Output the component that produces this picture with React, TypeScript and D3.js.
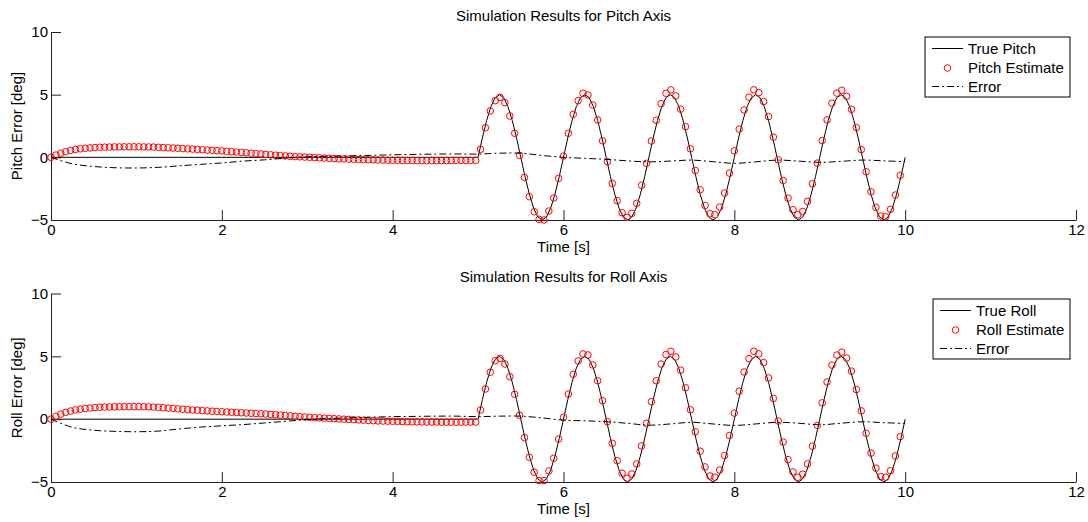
import { useEffect, useRef } from 'react';
import * as d3 from 'd3';

const width = 1088;
const height = 522;
const font = "'Liberation Sans', Arial, Helvetica, sans-serif";
const fontSize = 15;

// estimator output: 175 samples, evenly spaced over 10 s
const sampleStep = 10 / 175;
// true signal: zero until 5 s, then sampled every 0.05 s
const waveStart = 5;
const waveStep = 0.05;
// error trace sampled every 0.25 s
const errorStep = 0.25;

const xTicks = [0, 2, 4, 6, 8, 10, 12];
const yTicks = [-5, 0, 5, 10];

const trueWave = [
  0, 1.55, 2.94, 4.05, 4.76, 5, 4.76, 4.05, 2.94, 1.55, 0, -1.55, -2.94, -4.05, -4.76, -5, -4.76, -4.05, -2.94, -1.55,
  0, 1.55, 2.94, 4.05, 4.76, 5, 4.76, 4.05, 2.94, 1.55, 0, -1.55, -2.94, -4.05, -4.76, -5, -4.76, -4.05, -2.94, -1.55,
  0, 1.55, 2.94, 4.05, 4.76, 5, 4.76, 4.05, 2.94, 1.55, 0, -1.55, -2.94, -4.05, -4.76, -5, -4.76, -4.05, -2.94, -1.55,
  0, 1.55, 2.94, 4.05, 4.76, 5, 4.76, 4.05, 2.94, 1.55, 0, -1.55, -2.94, -4.05, -4.76, -5, -4.76, -4.05, -2.94, -1.55,
  0, 1.55, 2.94, 4.05, 4.76, 5, 4.76, 4.05, 2.94, 1.55, 0, -1.55, -2.94, -4.05, -4.76, -5, -4.76, -4.05, -2.94, -1.55,
  0,
];

const pitchEstimate = [
  0, 0.18, 0.33, 0.45, 0.55, 0.62, 0.68, 0.72, 0.75, 0.78,
  0.8, 0.81, 0.82, 0.83, 0.83, 0.84, 0.84, 0.84, 0.84, 0.83,
  0.83, 0.82, 0.8, 0.78, 0.76, 0.74, 0.72, 0.7, 0.68, 0.66,
  0.63, 0.61, 0.58, 0.56, 0.53, 0.51, 0.48, 0.45, 0.42, 0.39,
  0.36, 0.33, 0.3, 0.27, 0.23, 0.2, 0.17, 0.14, 0.11, 0.08,
  0.06, 0.04, 0.02, 0, -0.02, -0.04, -0.06, -0.08, -0.1, -0.12,
  -0.13, -0.15, -0.16, -0.17, -0.18, -0.19, -0.2, -0.21, -0.22, -0.23,
  -0.24, -0.24, -0.25, -0.25, -0.25, -0.26, -0.26, -0.26, -0.26, -0.26,
  -0.26, -0.26, -0.26, -0.25, -0.25, -0.25, -0.25, -0.24,
  0.64, 2.36, 3.7, 4.52, 4.79, 4.36, 3.3, 1.92, 0.16, -1.6,
  -3.14, -4.34, -4.95, -5.0, -4.29, -3.25, -1.68, 0.1, 1.92, 3.43,
  4.52, 5.11, 4.97, 4.17, 2.98, 1.32, -0.35, -2.08, -3.46, -4.42,
  -4.79, -4.47, -3.67, -2.23, -0.48, 1.3, 2.95, 4.28, 5.11, 5.38,
  4.9, 3.84, 2.45, 0.68, -1.05, -2.59, -3.84, -4.5, -4.58, -3.97,
  -2.85, -1.26, 0.52, 2.25, 3.78, 4.8, 5.38, 5.16, 4.45, 3.25,
  1.61, -0.2, -1.85, -3.25, -4.18, -4.58, -4.32, -3.52, -2.11, -0.46,
  1.34, 2.99, 4.32, 5.12, 5.35, 4.87, 3.83, 2.38, 0.62, -1.15,
  -2.75, -3.99, -4.68, -4.74, -4.15, -3.01, -1.44,
];

const pitchError = [
  0, -0.52, -0.73, -0.83, -0.85, -0.8, -0.68, -0.56, -0.45, -0.3,
  -0.2, -0.06, 0.04, 0.08, 0.12, 0.16, 0.2, 0.23, 0.26, 0.27,
  0.26, 0.33, 0.33, 0.15, 0, -0.08, -0.16, -0.28, -0.36, -0.3,
  -0.22, -0.35, -0.48, -0.36, -0.22, -0.3, -0.4, -0.32, -0.22, -0.28,
  -0.35,
];

const rollEstimate = [
  0, 0.22, 0.4, 0.54, 0.65, 0.74, 0.8, 0.85, 0.89, 0.92,
  0.94, 0.96, 0.97, 0.98, 0.99, 1.0, 1.0, 1.0, 1.0, 0.99,
  0.98, 0.96, 0.94, 0.91, 0.88, 0.85, 0.82, 0.79, 0.76, 0.73,
  0.71, 0.68, 0.66, 0.63, 0.61, 0.59, 0.57, 0.55, 0.53, 0.51,
  0.49, 0.47, 0.45, 0.43, 0.41, 0.38, 0.35, 0.32, 0.29, 0.26,
  0.23, 0.2, 0.17, 0.14, 0.12, 0.1, 0.08, 0.06, 0.04, 0.02,
  0, -0.02, -0.04, -0.06, -0.08, -0.1, -0.12, -0.14, -0.15, -0.16,
  -0.17, -0.18, -0.19, -0.2, -0.21, -0.22, -0.22, -0.23, -0.23, -0.23,
  -0.24, -0.24, -0.24, -0.24, -0.24, -0.23, -0.23, -0.23,
  0.73, 2.4, 3.73, 4.65, 4.84, 4.39, 3.38, 1.98, 0.31, -1.47,
  -3.03, -4.22, -4.89, -4.89, -4.12, -3.11, -1.58, 0.15, 2.0, 3.57,
  4.63, 5.19, 5.11, 4.31, 3.06, 1.47, -0.2, -1.92, -3.3, -4.3,
  -4.7, -4.36, -3.56, -2.13, -0.33, 1.39, 3.06, 4.39, 5.15, 5.4,
  4.95, 3.9, 2.5, 0.75, -1.0, -2.55, -3.8, -4.52, -4.62, -4.05,
  -2.9, -1.3, 0.48, 2.22, 3.75, 4.82, 5.4, 5.2, 4.5, 3.28,
  1.65, -0.15, -1.82, -3.22, -4.2, -4.62, -4.38, -3.56, -2.15, -0.5,
  1.3, 2.96, 4.3, 5.1, 5.33, 4.86, 3.82, 2.36, 0.66, -1.12,
  -2.7, -3.9, -4.57, -4.62, -4.1, -2.93, -1.39,
];

const rollError = [
  0, -0.65, -0.88, -0.97, -1.0, -0.95, -0.78, -0.63, -0.53, -0.43,
  -0.3, -0.17, -0.03, 0.05, 0.11, 0.16, 0.2, 0.22, 0.24, 0.24,
  0.2, 0.24, 0.24, 0.1, -0.08, -0.13, -0.2, -0.33, -0.48, -0.38,
  -0.25, -0.38, -0.5, -0.38, -0.25, -0.32, -0.45, -0.32, -0.21, -0.28,
  -0.34,
];

interface Panel {
  title: string;
  yLabel: string;
  names: [string, string, string];
  estimate: number[];
  error: number[];
  top: number;
  bottom: number;
  legendTop: number;
  legendWidth: number;
}

const panels: Panel[] = [
  {
    title: 'Simulation Results for Pitch Axis',
    yLabel: 'Pitch Error [deg]',
    names: ['True Pitch', 'Pitch Estimate', 'Error'],
    estimate: pitchEstimate,
    error: pitchError,
    top: 32,
    bottom: 220,
    legendTop: 37,
    legendWidth: 145,
  },
  {
    title: 'Simulation Results for Roll Axis',
    yLabel: 'Roll Error [deg]',
    names: ['True Roll', 'Roll Estimate', 'Error'],
    estimate: rollEstimate,
    error: rollError,
    top: 293.5,
    bottom: 482,
    legendTop: 299,
    legendWidth: 137,
  },
];

const plotLeft = 51;
const plotRight = 1076;
const legendRight = 1070;
const dashDot = '7,3,2,3';

type Pt = [number, number];

function App() {
  const svgRef = useRef<SVGSVGElement>(null);

  useEffect(() => {
    const svg = d3.select(svgRef.current);
    svg.selectAll('*').remove();

    const x = d3.scaleLinear().domain([0, 12]).range([plotLeft, plotRight]);

    panels.forEach((p) => {
      const y = d3.scaleLinear().domain([-5, 10]).range([p.bottom, p.top]);
      const g = svg.append('g').attr('font-family', font).attr('font-size', fontSize).attr('fill', '#000');

      const xAxis = d3.axisBottom(x).tickValues(xTicks).tickSizeInner(-10).tickSizeOuter(0).tickPadding(4);
      const yAxis = d3.axisLeft(y).tickValues(yTicks).tickSizeInner(-10).tickSizeOuter(0).tickPadding(3);

      g.append('g')
        .attr('transform', `translate(0,${p.bottom})`)
        .call(xAxis)
        .attr('font-size', fontSize)
        .attr('font-family', font);

      g.append('g')
        .attr('transform', `translate(${plotLeft},0)`)
        .call(yAxis)
        .attr('font-size', fontSize)
        .attr('font-family', font);

      g.selectAll('.domain, .tick line').attr('stroke', '#222').attr('stroke-width', 1);
      g.selectAll('.tick text').attr('fill', '#000');

      // true signal
      const truePts: Pt[] = [[0, 0], ...trueWave.map((v, i): Pt => [waveStart + i * waveStep, v])];
      const line = d3
        .line<Pt>()
        .x((d) => x(d[0]))
        .y((d) => y(d[1]));

      g.append('path')
        .datum(truePts)
        .attr('fill', 'none')
        .attr('stroke', '#000')
        .attr('stroke-width', 1)
        .attr('d', line);

      // estimate markers
      g.append('g')
        .selectAll('circle')
        .data(p.estimate)
        .enter()
        .append('circle')
        .attr('cx', (_, i) => x(i * sampleStep))
        .attr('cy', (d) => y(d))
        .attr('r', 3.3)
        .attr('fill', 'none')
        .attr('stroke', '#ff0000')
        .attr('stroke-width', 1);

      // error trace
      const errPts: Pt[] = p.error.map((v, i) => [i * errorStep, v]);
      g.append('path')
        .datum(errPts)
        .attr('fill', 'none')
        .attr('stroke', '#000')
        .attr('stroke-width', 1)
        .attr('stroke-dasharray', dashDot)
        .attr('d', line.curve(d3.curveCatmullRom.alpha(0.5)));

      // labels
      g.append('text')
        .attr('x', (plotLeft + plotRight) / 2)
        .attr('y', p.top - 11.5)
        .attr('text-anchor', 'middle')
        .text(p.title);

      g.append('text')
        .attr('x', (plotLeft + plotRight) / 2)
        .attr('y', p.bottom + 32)
        .attr('text-anchor', 'middle')
        .text('Time [s]');

      g.append('text')
        .attr('transform', `translate(22,${(p.top + p.bottom) / 2}) rotate(-90)`)
        .attr('text-anchor', 'middle')
        .text(p.yLabel);

      // legend
      const lg = g.append('g').attr('transform', `translate(${legendRight - p.legendWidth},${p.legendTop})`);
      lg.append('rect')
        .attr('width', p.legendWidth)
        .attr('height', 60)
        .attr('fill', '#fff')
        .attr('stroke', '#000')
        .attr('stroke-width', 1);

      const rows = [11.5, 31, 49.5];
      lg.append('line')
        .attr('x1', 7).attr('x2', 38)
        .attr('y1', rows[0]).attr('y2', rows[0])
        .attr('stroke', '#000');
      lg.append('circle')
        .attr('cx', 22.5).attr('cy', rows[1]).attr('r', 3.3)
        .attr('fill', 'none').attr('stroke', '#ff0000');
      lg.append('line')
        .attr('x1', 7).attr('x2', 38)
        .attr('y1', rows[2]).attr('y2', rows[2])
        .attr('stroke', '#000')
        .attr('stroke-dasharray', dashDot);

      p.names.forEach((name, i) => {
        lg.append('text')
          .attr('x', 43)
          .attr('y', rows[i] + 5)
          .text(name);
      });
    });
  }, []);

  return (
    <svg
      ref={svgRef}
      width={width}
      height={height}
      style={{ position: 'absolute', left: 0, top: 0, background: '#fff' }}
    />
  );
}

export default App;
